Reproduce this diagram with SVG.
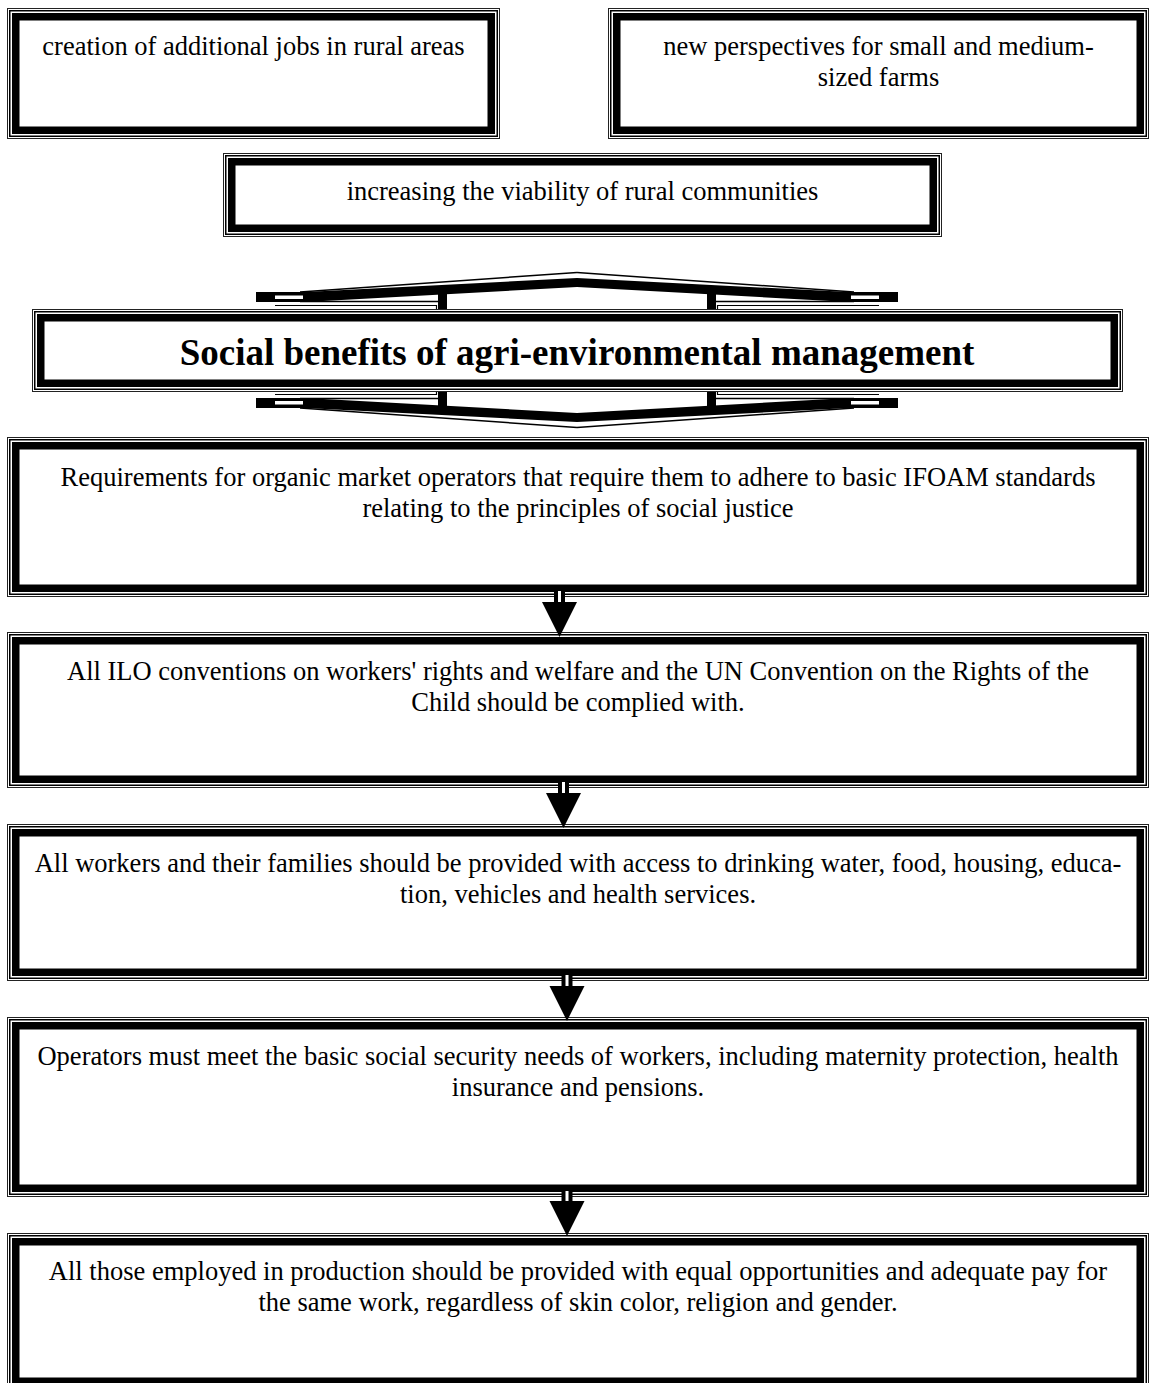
<svg xmlns="http://www.w3.org/2000/svg" width="1164" height="1383" viewBox="0 0 1164 1383">
<style>
.o{fill:#fff;stroke:#222;stroke-width:1}
.m{fill:none;stroke:#000;stroke-width:1.5}
.t{fill:none;stroke:#000;stroke-width:7.5}
text{font-family:"Liberation Serif","Times New Roman",serif;font-size:26.5px;fill:#000;text-anchor:middle}
.title{font-weight:bold;font-size:37px}
.k{fill:#000}
.w{fill:#fff}
</style>
<defs>
<g id="aq">
<line x1="300" y1="292" x2="577" y2="272.5" stroke="#000" stroke-width="1.5"/>
<polygon class="k" points="256,292 305,292 577,278 577,287 305,302 256,302"/>
<rect class="w" x="275" y="295.5" width="28" height="3.5"/>
<line x1="300" y1="301.5" x2="440" y2="301.5" stroke="#000" stroke-width="1.5"/>
<polyline points="275,305.5 436.5,305.5 436.5,309" fill="none" stroke="#000" stroke-width="1.2"/>
<rect class="k" x="438" y="290" width="9" height="19.5"/>
</g>
</defs>

<g id="node-jobs">
<rect class="o" x="7.5" y="8.5" width="492" height="130"/>
<rect class="m" x="9.75" y="10.75" width="487.5" height="125.5"/>
<rect class="t" x="15.75" y="16.75" width="475.5" height="113.5"/>
<text x="253.5" y="55">creation of additional jobs in rural areas</text>
</g>

<g id="node-farms">
<rect class="o" x="608.5" y="8.5" width="540" height="130"/>
<rect class="m" x="610.75" y="10.75" width="535.5" height="125.5"/>
<rect class="t" x="616.75" y="16.75" width="523.5" height="113.5"/>
<text x="878.5" y="55">new perspectives for small and medium-</text>
<text x="878.5" y="85.5">sized farms</text>
</g>

<g id="node-viability">
<rect class="o" x="223.5" y="153.5" width="718" height="83"/>
<rect class="m" x="225.75" y="155.75" width="713.5" height="78.5"/>
<rect class="t" x="231.75" y="161.75" width="701.5" height="66.5"/>
<text x="582.5" y="200">increasing the viability of rural communities</text>
</g>

<g id="node-title">
<g id="updown-arrow">
<use href="#aq"/>
<use href="#aq" transform="matrix(-1 0 0 1 1154 0)"/>
<use href="#aq" transform="matrix(1 0 0 -1 0 700)"/>
<use href="#aq" transform="matrix(-1 0 0 -1 1154 700)"/>
</g>
<rect class="o" x="32.5" y="309.5" width="1090" height="82"/>
<rect class="m" x="34.75" y="311.75" width="1085.5" height="77.5"/>
<rect class="t" x="40.75" y="317.75" width="1073.5" height="65.5"/>
<text class="title" x="577" y="365">Social benefits of agri-environmental management</text>
</g>

<g id="node-ifoam">
<rect class="o" x="7.5" y="437.5" width="1141" height="159"/>
<rect class="m" x="9.75" y="439.75" width="1136.5" height="154.5"/>
<rect class="t" x="15.75" y="445.75" width="1124.5" height="142.5"/>
<text x="578" y="486">Requirements for organic market operators that require them to adhere to basic IFOAM standards</text>
<text x="578" y="516.5">relating to the principles of social justice</text>
</g>

<g id="node-ilo">
<rect class="o" x="7.5" y="632.5" width="1141" height="155"/>
<rect class="m" x="9.75" y="634.75" width="1136.5" height="150.5"/>
<rect class="t" x="15.75" y="640.75" width="1124.5" height="138.5"/>
<text x="578" y="680">All ILO conventions on workers' rights and welfare and the UN Convention on the Rights of the</text>
<text x="578" y="710.5">Child should be complied with.</text>
</g>

<g id="node-access">
<rect class="o" x="7.5" y="824.5" width="1141" height="156"/>
<rect class="m" x="9.75" y="826.75" width="1136.5" height="151.5"/>
<rect class="t" x="15.75" y="832.75" width="1124.5" height="139.5"/>
<text x="578" y="872">All workers and their families should be provided with access to drinking water, food, housing, educa-</text>
<text x="578" y="902.5">tion, vehicles and health services.</text>
</g>

<g id="node-security">
<rect class="o" x="7.5" y="1017.5" width="1141" height="179"/>
<rect class="m" x="9.75" y="1019.75" width="1136.5" height="174.5"/>
<rect class="t" x="15.75" y="1025.75" width="1124.5" height="162.5"/>
<text x="578" y="1065">Operators must meet the basic social security needs of workers, including maternity protection, health</text>
<text x="578" y="1095.5">insurance and pensions.</text>
</g>

<g id="node-equal">
<rect class="o" x="7.5" y="1233.5" width="1141" height="156"/>
<rect class="m" x="9.75" y="1235.75" width="1136.5" height="151.5"/>
<rect class="t" x="15.75" y="1241.75" width="1124.5" height="139.5"/>
<text x="578" y="1280">All those employed in production should be provided with equal opportunities and adequate pay for</text>
<text x="578" y="1310.5">the same work, regardless of skin color, religion and gender.</text>
</g>

<g id="connectors">
<g>
<rect class="k" x="554" y="591" width="11" height="12"/><rect class="w" x="558" y="591" width="3" height="11"/>
<polygon class="k" points="542,602 577,602 559.5,637"/>
</g>
<g>
<rect class="k" x="558" y="782" width="11" height="12"/><rect class="w" x="562" y="782" width="3" height="11"/>
<polygon class="k" points="546,793 581,793 563.5,828"/>
</g>
<g>
<rect class="k" x="561.5" y="975" width="11" height="12"/><rect class="w" x="565.5" y="975" width="3" height="11"/>
<polygon class="k" points="549.5,986 584.5,986 567,1021"/>
</g>
<g>
<rect class="k" x="561.5" y="1191" width="11" height="12"/><rect class="w" x="565.5" y="1191" width="3" height="11"/>
<polygon class="k" points="549.5,1201 584.5,1201 567,1236"/>
</g>
</g>
</svg>
